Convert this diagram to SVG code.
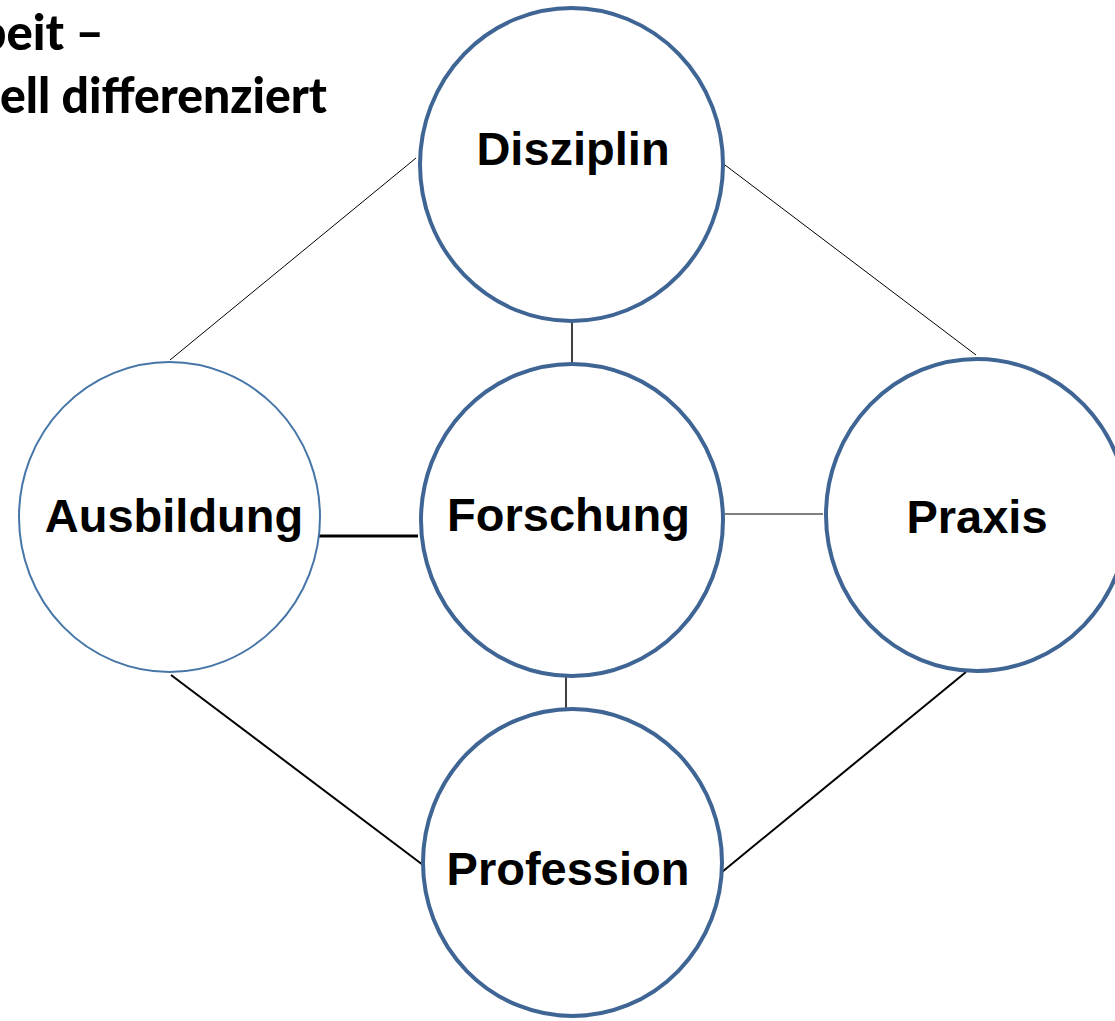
<svg xmlns="http://www.w3.org/2000/svg" width="1115" height="1021" viewBox="0 0 1115 1021">
  <style>
    .node { fill: #ffffff; stroke: #3f6594; stroke-width: 4; }
    .node.thin { stroke: #4676a8; stroke-width: 2; }
    .label { font-family: "Liberation Sans", Arial, sans-serif; font-weight: bold; font-size: 47px; fill: #000000; text-anchor: middle; }
    .title { font-family: Lato, "Open Sans", sans-serif; font-weight: 900; font-size: 49px; fill: #000000; }
    .conn { stroke: #000000; fill: none; }
  </style>
  <rect width="1115" height="1021" fill="#ffffff"/>
  <g id="title">
    <text class="title" x="104" y="50" text-anchor="end">beit –</text>
    <text class="title" x="0" y="113" textLength="327" lengthAdjust="spacingAndGlyphs">ell differenziert</text>
  </g>
  <g id="connectors">
    <line class="conn" x1="416" y1="158" x2="170" y2="360" stroke-width="1"/>
    <line class="conn" x1="725" y1="165" x2="976" y2="355" stroke-width="1"/>
    <line class="conn" x1="572" y1="323" x2="572" y2="362" stroke-width="1.5"/>
    <line class="conn" x1="319" y1="536" x2="418" y2="536" stroke-width="3"/>
    <line class="conn" x1="725" y1="514" x2="823" y2="514" stroke-width="1"/>
    <line class="conn" x1="566" y1="673" x2="566" y2="709" stroke-width="1.5"/>
    <line class="conn" x1="171" y1="675" x2="423" y2="865" stroke-width="2"/>
    <line class="conn" x1="966" y1="672" x2="722" y2="872" stroke-width="2"/>
  </g>
  <g id="node-disziplin">
    <ellipse class="node" cx="571.5" cy="164.5" rx="151.5" ry="156.5"/>
    <text class="label" x="573" y="165">Disziplin</text>
  </g>
  <g id="node-ausbildung">
    <ellipse class="node thin" cx="169.5" cy="517" rx="150.5" ry="155"/>
    <text class="label" x="174" y="532">Ausbildung</text>
  </g>
  <g id="node-forschung">
    <ellipse class="node" cx="572" cy="520" rx="151" ry="156"/>
    <text class="label" x="568.5" y="531">Forschung</text>
  </g>
  <g id="node-praxis">
    <ellipse class="node" cx="977" cy="515" rx="151" ry="156"/>
    <text class="label" x="977" y="533">Praxis</text>
  </g>
  <g id="node-profession">
    <ellipse class="node" cx="572.5" cy="862.5" rx="149.5" ry="153.5"/>
    <text class="label" x="568" y="885">Profession</text>
  </g>
</svg>
